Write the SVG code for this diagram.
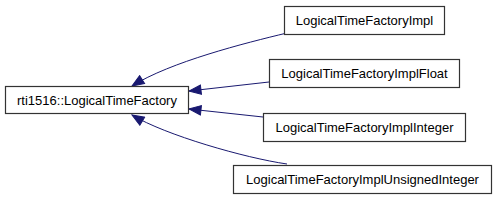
<svg xmlns="http://www.w3.org/2000/svg" width="499" height="200" viewBox="0 0 499 200">
<style>
.node rect{fill:#ffffff;stroke:#333333;stroke-width:1.2}
.node text{font-family:"Liberation Sans",Arial,sans-serif;font-size:13px;fill:#000000;text-anchor:middle}
.edge{fill:none;stroke:#191970;stroke-width:1}
</style>
<defs>
<marker id="arr" markerUnits="userSpaceOnUse" markerWidth="14" markerHeight="11" refX="13" refY="5.5" orient="auto">
<path d="M1,0.8 L13,5.5 L1,10.2 z" fill="#191970" stroke="#191970" stroke-width="1"/>
</marker>
</defs>
<g id="connectors">
<path class="edge" d="M287,33 C245,43 170,62 132,86" marker-end="url(#arr)"/>
<path class="edge" d="M269,82 L189,91" marker-end="url(#arr)"/>
<path class="edge" d="M263,117 L189,109" marker-end="url(#arr)"/>
<path class="edge" d="M287,164 C245,158 165,135 132,115" marker-end="url(#arr)"/>
</g>
<g id="node-base" class="node">
<rect x="5.5" y="86.5" width="183" height="27"/>
<text x="97" y="104.5">rti1516::LogicalTimeFactory</text>
</g>
<g id="node-impl" class="node">
<rect x="284.5" y="6.5" width="160" height="28"/>
<text x="364.5" y="25">LogicalTimeFactoryImpl</text>
</g>
<g id="node-float" class="node">
<rect x="269.5" y="59.5" width="190" height="28"/>
<text x="364.5" y="78">LogicalTimeFactoryImplFloat</text>
</g>
<g id="node-integer" class="node">
<rect x="263.5" y="113.5" width="202" height="28"/>
<text x="364.5" y="132">LogicalTimeFactoryImplInteger</text>
</g>
<g id="node-unsigned" class="node">
<rect x="233.5" y="165.5" width="258" height="28"/>
<text x="362.5" y="184">LogicalTimeFactoryImplUnsignedInteger</text>
</g>
</svg>
